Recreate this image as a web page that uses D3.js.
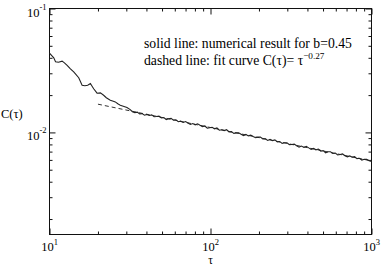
<!DOCTYPE html>
<html>
<head>
<meta charset="utf-8">
<script src="https://cdn.jsdelivr.net/npm/d3@7"></script>
<style>
body{margin:0;background:#fff}
svg{display:block}
text{font-family:"Liberation Serif","Times New Roman","DejaVu Serif",serif;fill:#000}
</style>
</head>
<body>
<svg id="chart" width="382" height="266"></svg>
<script>
// numerical result (tau, C(tau))
let tau = [10.0, 10.63, 10.90, 11.37, 11.98, 12.38, 12.87, 13.49, 14.14, 15.19,
  15.94, 16.59, 17.27, 17.95, 18.47, 18.81, 19.74, 20.70, 21.69, 22.54,
  23.86, 24.91, 25.63, 26.56, 27.52, 28.72, 30.28, 31.72,
  32.73, 33.88, 35.08, 36.31, 37.58, 38.90, 40.27, 41.69, 43.15, 44.67,
  46.24, 47.86, 49.55, 51.29, 53.09, 54.95, 56.89, 58.88, 60.95, 63.10,
  65.31, 67.61, 69.98, 72.44, 74.99, 77.62, 80.35, 83.18, 86.10, 89.13,
  92.26, 95.50, 98.86, 102.3, 105.9, 109.6, 113.5, 117.5, 121.6, 125.9,
  130.3, 134.9, 139.6, 144.5, 149.6, 154.9, 160.3, 166.0, 171.8, 177.8,
  184.1, 190.5, 197.2, 204.2, 211.3, 218.8, 226.5, 234.4, 242.7, 251.2,
  260.0, 269.2, 278.6, 288.4, 298.5, 309.0, 319.9, 331.1, 342.8, 354.8,
  367.3, 380.2, 393.6, 407.4, 421.7, 436.5, 451.9, 467.7, 484.2, 501.2,
  518.8, 537.0, 555.9, 575.4, 595.7, 616.6, 638.3, 660.7, 683.9, 708.0,
  732.8, 758.6, 785.2, 812.8, 841.4, 871.0, 901.6, 933.3, 966.1, 1000];
let corr = [0.04369, 0.03996, 0.03713, 0.03679, 0.03759, 0.03645, 0.03480, 0.03262, 0.03085, 0.02761,
  0.02402, 0.02380, 0.02402, 0.02479, 0.02336, 0.02251, 0.02072, 0.02083, 0.01995, 0.01905,
  0.01819, 0.01785, 0.01762, 0.01704, 0.01658, 0.01627, 0.01589, 0.01526,
  0.01468, 0.01444, 0.01457, 0.01411, 0.01417, 0.01378, 0.01397, 0.01369, 0.01384, 0.01337,
  0.01343, 0.01352, 0.01309, 0.01318, 0.01270, 0.01288, 0.01297, 0.01255, 0.01264, 0.01221,
  0.01232, 0.01204, 0.01223, 0.01192, 0.01160, 0.01178, 0.01152, 0.01173, 0.01141, 0.01115,
  0.01127, 0.01082, 0.01091, 0.01099, 0.01069, 0.01086, 0.01042, 0.01051, 0.01034, 0.01051,
  0.01008, 0.01015, 0.009828, 0.009918, 0.009940, 0.009668, 0.009425, 0.009621, 0.009380, 0.009509,
  0.009270, 0.009058, 0.009162, 0.009182, 0.008849, 0.008889, 0.008606, 0.008785, 0.008584, 0.008702,
  0.008387, 0.008443, 0.008156, 0.008250, 0.008249, 0.007967, 0.007985, 0.008039, 0.007801, 0.007605,
  0.007763, 0.007569, 0.007726, 0.007498, 0.007309, 0.007427, 0.007240, 0.007340, 0.007073, 0.007122,
  0.006848, 0.006974, 0.006973, 0.006767, 0.006814, 0.006582, 0.006642, 0.006702, 0.006474, 0.006356,
  0.006456, 0.006310, 0.006368, 0.006151, 0.006178, 0.005982, 0.006079, 0.006064, 0.005897, 0.005829];

// fit curve C = tau^-0.27 (end points as drawn)
let fitTau = [20, 1000];
let fitC = [0.0169, 0.00588];

let xMajor = [10, 100, 1000];
let xMinor = [20, 30, 40, 50, 60, 70, 80, 90, 200, 300, 400, 500, 600, 700, 800, 900];
let xExp = ["1", "2", "3"];
let yMajor = [0.01, 0.1];
let yMinor = [0.002, 0.003, 0.004, 0.005, 0.006, 0.007, 0.008, 0.009,
  0.02, 0.03, 0.04, 0.05, 0.06, 0.07, 0.08, 0.09];
let yExp = ["-2", "-1"];

let svg = d3.select("#chart");
let mLeft = 49.5, mRight = 371.5, mTop = 8.5, mBottom = 234.5;

let x = d3.scaleLog().domain([10, 1000]).range([mLeft, mRight]);
let y = d3.scaleLog().domain([0.0015, 0.1]).range([mBottom, mTop]);

function axisStyle(g){
    g.select(".domain").remove();
    g.selectAll("line").attr("stroke", "#111").attr("stroke-width", 1);
}

// ticks on all four sides, pointing in
svg.append("g").attr("transform", `translate(0,${mBottom})`)
    .call(d3.axisBottom(x).tickValues(xMajor).tickSize(-6).tickFormat("")).call(axisStyle);
svg.append("g").attr("transform", `translate(0,${mBottom})`)
    .call(d3.axisBottom(x).tickValues(xMinor).tickSize(-3).tickFormat("")).call(axisStyle);
svg.append("g").attr("transform", `translate(0,${mTop})`)
    .call(d3.axisTop(x).tickValues(xMajor).tickSize(-6).tickFormat("")).call(axisStyle);
svg.append("g").attr("transform", `translate(0,${mTop})`)
    .call(d3.axisTop(x).tickValues(xMinor).tickSize(-3).tickFormat("")).call(axisStyle);
svg.append("g").attr("transform", `translate(${mLeft},0)`)
    .call(d3.axisLeft(y).tickValues(yMajor).tickSize(-6).tickFormat("")).call(axisStyle);
svg.append("g").attr("transform", `translate(${mLeft},0)`)
    .call(d3.axisLeft(y).tickValues(yMinor).tickSize(-3).tickFormat("")).call(axisStyle);
svg.append("g").attr("transform", `translate(${mRight},0)`)
    .call(d3.axisRight(y).tickValues(yMajor).tickSize(-6).tickFormat("")).call(axisStyle);
svg.append("g").attr("transform", `translate(${mRight},0)`)
    .call(d3.axisRight(y).tickValues(yMinor).tickSize(-3).tickFormat("")).call(axisStyle);

// frame
svg.append("rect")
    .attr("x", mLeft).attr("y", mTop)
    .attr("width", mRight - mLeft).attr("height", mBottom - mTop)
    .attr("fill", "none").attr("stroke", "#111").attr("stroke-width", 1);

// tick labels 10^n
xMajor.forEach((v, i) => {
    let t = svg.append("text").attr("x", x(v)).attr("y", 250.5)
        .attr("text-anchor", "middle").style("font-size", "12.5px");
    t.append("tspan").text("10");
    t.append("tspan").attr("dy", -6).style("font-size", "8.5px").text(xExp[i]);
});
yMajor.forEach((v, i) => {
    let t = svg.append("text").attr("x", 46.5).attr("y", y(v) + 8)
        .attr("text-anchor", "end").style("font-size", "12.5px");
    t.append("tspan").text("10");
    t.append("tspan").attr("dy", -7).style("font-size", "8.5px").text(yExp[i]);
});

// axis titles
svg.append("text").attr("x", x(100)).attr("y", 263.5)
    .attr("text-anchor", "middle").style("font-size", "11.5px").text("τ");
svg.append("text").attr("x", 1).attr("y", 118)
    .style("font-size", "12.5px").text("C(τ)");

// curves
let line = d3.line().x(d => x(d[0])).y(d => y(d[1]));

svg.append("path")
    .datum(fitTau.map((t, i) => [t, fitC[i]]))
    .attr("d", line)
    .attr("fill", "none").attr("stroke", "#333").attr("stroke-width", 1)
    .attr("stroke-dasharray", "4,3");

svg.append("path")
    .datum(tau.map((t, i) => [t, corr[i]]))
    .attr("d", line)
    .attr("fill", "none").attr("stroke", "#222").attr("stroke-width", 1.1);

// annotation, sized so the first line spans the same width as in the figure
let a1 = svg.append("text").attr("x", 144).attr("y", 48)
    .style("font-size", "13.4px").text("solid line: numerical result for b=0.45");
let fs = 13.4 * 208 / a1.node().getComputedTextLength();
a1.style("font-size", fs + "px");
let ann = svg.append("text").attr("x", 144).attr("y", 65).style("font-size", fs + "px");
ann.append("tspan").text("dashed line: fit curve C(τ)= τ");
ann.append("tspan").attr("dy", -6).style("font-size", (fs * 0.67) + "px").text("−0.27");
</script>
</body>
</html>
